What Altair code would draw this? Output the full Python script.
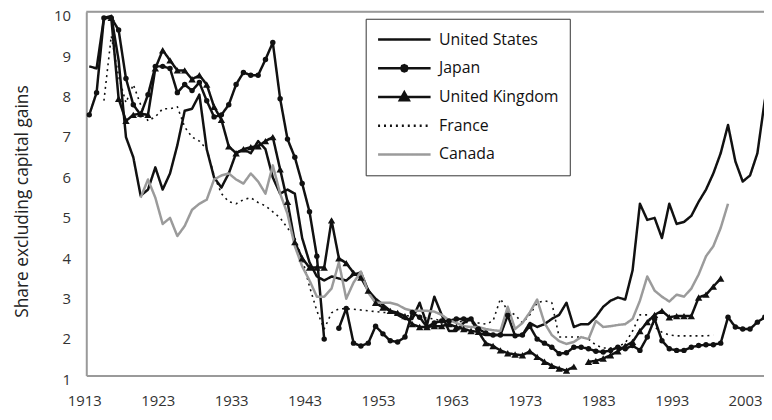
import altair as alt
import pandas as pd

countries = ["United States", "Japan", "United Kingdom", "France", "Canada"]

us_start = 1913
us_values = [8.65, 8.6, 9.85, 9.9, 8.8, 6.9, 6.4, 5.45, 5.6, 6.15,
             5.6, 6.0, 6.7, 7.55, 7.6, 7.95, 6.6, 5.9, 5.65, 6.0,
             6.5, 6.6, 6.5, 6.8, 6.6, 5.9, 5.5, 5.6, 5.5, 4.4,
             3.8, 3.45, 3.35, 3.45, 3.4, 3.35, 3.5, 3.55, 3.1, 2.9,
             2.75, 2.6, 2.5, 2.4, 2.4, 2.8, 2.25, 2.95, 2.5, 2.1,
             2.1, 2.3, 2.4, 2.05, 2.0, 2.0, 2.0, 2.0, 2.0, 2.0,
             2.3, 2.2, 2.27, 2.4, 2.5, 2.8, 2.2, 2.27, 2.27, 2.45,
             2.7, 2.85, 2.93, 2.88, 3.6, 5.25, 4.85, 4.9, 4.4, 5.25,
             4.75, 4.8, 4.95, 5.3, 5.6, 6.0, 6.5, 7.2, 6.3, 5.8,
             5.95, 6.5, 7.8, 8.6]

japan_start = 1913
japan_values = [7.45, 8.0, 9.85, 9.85, 9.55, 8.35, 7.7, 7.45, 7.95, 8.65,
                8.65, 8.6, 8.0, 8.2, 8.05, 8.25, 7.8, 7.4, 7.45, 7.7,
                8.2, 8.5, 8.43, 8.43, 8.82, 9.24, 7.85, 6.85, 6.4, 5.75,
                5.05, 3.95, 1.9, None, 2.17, 2.66, 1.8, 1.73, 1.8, 2.22,
                2.03, 1.86, 1.83, 1.95, 2.56, 2.44, 2.2, 2.3, 2.35, 2.35,
                2.4, 2.4, 2.4, 2.15, 2.05, 2.0, 2.0, 2.49, 1.98, 2.0,
                2.22, 1.9, 1.8, 1.7, 1.54, 1.56, 1.7, 1.7, 1.66, 1.6,
                1.58, 1.62, 1.7, 1.66, 1.74, 1.62, 1.95, 2.4, 1.86, 1.66,
                1.62, 1.62, 1.7, 1.74, 1.76, 1.76, 1.8, 2.44, 2.2, 2.15,
                2.15, 2.32, 2.44]

uk_start = 1916
uk_values = [9.85, 7.85, 7.3, 7.45, 7.48, 7.45, 8.6, 9.05, 8.8, 8.55,
             8.55, 8.33, 8.43, 8.2, 7.65, 7.33, 6.67, 6.5, 6.6, 6.65,
             6.67, 6.8, 6.9, 6.1, 5.3, 4.3, 3.9, 3.67, 3.67, 3.67,
             4.84, 3.9, 3.78, 3.54, 3.42, 3.1, 2.8, 2.68, 2.6, 2.55,
             2.47, 2.27, 2.2, 2.2, 2.22, 2.22, 2.27, 2.2, 2.15, 2.1,
             2.08, 1.8, 1.73, 1.62, 1.55, 1.52, 1.5, 1.6, 1.46, 1.34,
             1.24, 1.17, 1.12, 1.22, None, 1.34, 1.36, 1.42, 1.5, 1.6,
             1.73, 1.83, 2.1, 2.32, 2.5, 2.6, 2.44, 2.47, 2.47, 2.47,
             2.93, 3.0, 3.2, 3.4]

france_start = 1915
france_values = [7.8, 9.4, 8.4, 7.75, 8.2, 7.7, 7.3, 7.4, 7.6, 7.6,
                 7.65, 7.15, 6.9, 6.8, 6.6, 5.95, 5.5, 5.3, 5.25, 5.35,
                 5.4, 5.28, 5.2, 5.05, 4.9, 4.65, 4.4, 3.9, 3.2, 2.6,
                 2.15, 2.55, 2.65, 2.65, 2.64, 2.62, 2.6, 2.58, 2.56, 2.56,
                 2.53, 2.48, 2.47, 2.45, 2.42, 2.4, 2.35, 2.35, 2.35, 2.32,
                 2.3, 2.3, 2.27, 2.35, 2.9, 2.6, 2.5, 2.3, 2.5, 2.8,
                 2.85, 2.8, 1.95, 1.95, 1.95, 1.95, 1.9, 1.75, 1.68, 1.68,
                 1.72, 1.8, 2.1, 2.5, 2.5, 2.2, 2.07, 2.0, 1.98, 1.98,
                 1.98, 1.98, 1.98, 2.0]

canada_start = 1920
canada_values = [5.4, 5.85, 5.4, 4.75, 4.9, 4.45, 4.7, 5.1, 5.25, 5.35,
                 5.85, 5.95, 6.0, 5.85, 5.75, 6.0, 5.8, 5.5, 6.2, 5.5,
                 5.0, 4.2, 3.7, 3.35, 2.95, 2.95, 3.15, 3.8, 2.9, 3.3,
                 3.57, 3.05, 2.8, 2.8, 2.8, 2.75, 2.65, 2.6, 2.6, 2.6,
                 2.58, 2.5, 2.37, 2.3, 2.22, 2.2, 2.2, 2.15, 2.12, 2.1,
                 2.7, 2.15, 2.3, 2.56, 2.88, 2.3, 2.0, 1.85, 1.78, 1.83,
                 1.95, 1.9, 2.35, 2.2, 2.22, 2.25, 2.27, 2.4, 2.85, 3.45,
                 3.1, 2.95, 2.83, 3.0, 2.95, 3.15, 3.5, 3.95, 4.2, 4.65,
                 5.25]

x_tick_years = [1913, 1923, 1933, 1943, 1953, 1963, 1973, 1983, 1993, 2003]
y_tick_values = [1, 2, 3, 4, 5, 6, 7, 8, 9, 10]

series = [
    ("United States", us_start, us_values),
    ("Japan", japan_start, japan_values),
    ("United Kingdom", uk_start, uk_values),
    ("France", france_start, france_values),
    ("Canada", canada_start, canada_values),
]

rows = []
for name, start, vals in series:
    seg = 0
    for i, v in enumerate(vals):
        if v is None:
            seg += 1
            continue
        rows.append({"country": name, "year": start + i, "value": v,
                     "seg": f"{name}-{seg}"})
df = pd.DataFrame(rows)

BLACK = "#111111"
GRAY = "#9b9b9b"
FRAME = "#9a9a9a"
FONT = "Open Sans"

line_colors = [BLACK, BLACK, BLACK, BLACK, GRAY]
line_dashes = [[1, 0], [1, 0], [1, 0], [2, 4], [1, 0]]
line_widths = [2.5, 2.5, 2.5, 1.6, 2.5]

stroke_scale = alt.Scale(domain=countries, range=line_colors)
dash_scale = alt.Scale(domain=countries, range=line_dashes)
fill_scale = alt.Scale(domain=countries,
                       range=["transparent", BLACK, BLACK, "transparent", "transparent"])
octagon = ("M0.12,0L0.085,0.085L0,0.12L-0.085,0.085L-0.12,0"
           "L-0.085,-0.085L0,-0.12L0.085,-0.085Z")
triangle = "M-0.17,0.12L0,-0.18L0.17,0.12Z"
shape_scale = alt.Scale(domain=countries,
                        range=["M-1,0H1", "M-1,0H1" + octagon, "M-1,0H1" + triangle,
                               "M-1,0H1", "M-1,0H1"])

x_scale = alt.Scale(domain=[1912.595, 2004.9], nice=False, zero=False)
y_scale = alt.Scale(domain=[1, 10], nice=False, zero=False)

x_axis = alt.Axis(values=x_tick_years, format="d", title=None, ticks=False, grid=False,
                  domainColor=FRAME, domainWidth=2, labelFont=FONT, labelFontSize=15,
                  labelColor="#333333", labelPadding=18, labelOffset=-5)
y_axis = alt.Axis(values=y_tick_values, title="Share excluding capital gains",
                  titleFont=FONT, titleFontSize=17.5, titleFontWeight="normal",
                  titleColor="#222222", titleX=-64, titleY=191, titleAlign="center",
                  titleBaseline="middle", ticks=False, grid=False,
                  domainColor=FRAME, domainWidth=2, labelFont=FONT, labelFontSize=15,
                  labelColor="#333333", labelPadding=16, labelOffset=4)

X = alt.X("year:Q", scale=x_scale, axis=x_axis)
Y = alt.Y("value:Q", scale=y_scale, axis=y_axis)

legend = alt.Legend(title=None, orient="none", legendX=282, legendY=7,
                    direction="vertical", symbolSize=2809, symbolStrokeWidth=2.5,
                    symbolOpacity=1, labelFont=FONT, labelFontSize=16, labelColor=BLACK,
                    labelOffset=7, labelLimit=300, padding=11, rowPadding=9,
                    clipHeight=20, strokeColor="#333333", fillColor="white")

layers = []
for name, color, dash, width in zip(countries, line_colors, line_dashes, line_widths):
    layers.append(
        alt.Chart(df).transform_filter(alt.datum.country == name).mark_line(
            clip=True, strokeJoin="round", color=color, strokeDash=dash, strokeWidth=width
        ).encode(x=X, y=Y, detail="seg:N")
    )

japan_pts = alt.Chart(df).transform_filter(alt.datum.country == "Japan").mark_point(
    shape="circle", filled=True, size=30, color=BLACK, opacity=1, clip=True
).encode(x=X, y=Y)

uk_pts = alt.Chart(df).transform_filter(alt.datum.country == "United Kingdom").mark_point(
    shape="triangle-up", filled=True, size=55, color=BLACK, opacity=1, clip=True
).encode(x=X, y=Y)

top_rule = alt.Chart(pd.DataFrame({"k": [0]})).mark_rule(
    color=FRAME, strokeWidth=2
).encode(y=alt.datum(10))

legend_layer = alt.Chart(df).transform_filter("false").mark_point(
    opacity=1, strokeWidth=2.5, filled=True
).encode(
    stroke=alt.Stroke("country:N", scale=stroke_scale, legend=legend),
    fill=alt.Fill("country:N", scale=fill_scale, legend=legend),
    shape=alt.Shape("country:N", scale=shape_scale, legend=legend),
    strokeDash=alt.StrokeDash("country:N", scale=dash_scale, legend=legend),
)

chart = alt.layer(*layers, japan_pts, uk_pts, top_rule, legend_layer).properties(
    width=684, height=367,
    autosize=alt.AutoSizeParams(type="none"),
    padding={"left": 79, "top": 2, "right": 0, "bottom": 33},
).configure_view(stroke=None).configure(background="white")

chart.save("out.html", embed_options={"renderer": "svg", "actions": False})
